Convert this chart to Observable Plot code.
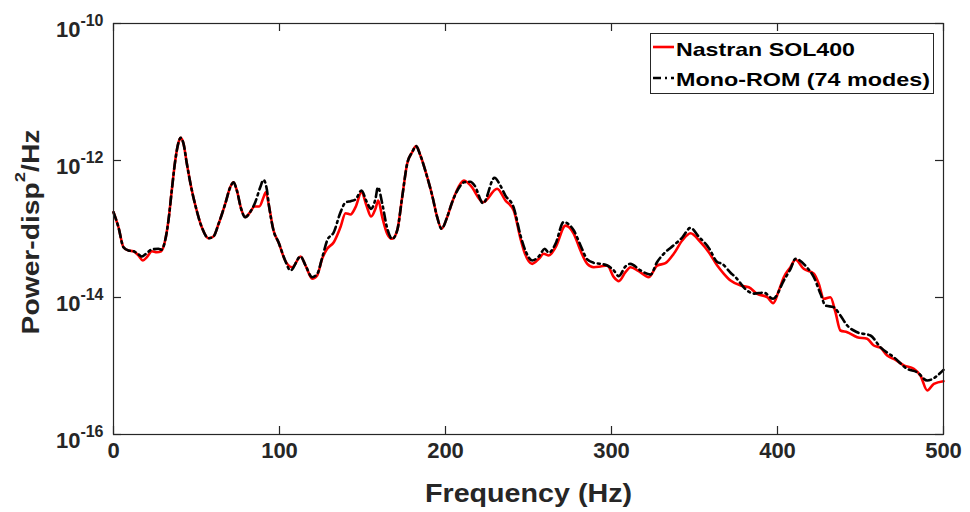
<!DOCTYPE html>
<html>
<head>
<meta charset="utf-8">
<script src="https://cdn.jsdelivr.net/npm/d3@7"></script>
<script src="https://cdn.jsdelivr.net/npm/@observablehq/plot@0.6"></script>
<style>
  body { margin: 0; background: #fff; }
  #chart { width: 970px; height: 512px; position: relative; }
</style>
</head>
<body>
<div id="chart"></div>
<script>
// ---- data ----
const seriesNames = ["Nastran SOL400", "Mono-ROM (74 modes)"];
const xLabel = "Frequency (Hz)";
const yLabelMain = "Power-disp";
const yLabelSup = "2";
const yLabelEnd = "/Hz";
const xTicks = [0, 100, 200, 300, 400, 500];
const yTicks = [1e-16, 1e-14, 1e-12, 1e-10];

const nastranFreq = [
  0, 3, 6, 9, 12, 15.1, 17.7, 20.1, 23.1, 26.1,
  28.7, 31.1, 33.1, 35.1, 37.2, 39.2, 40.5, 42.2, 44.2, 46.8,
  49.6, 53.2, 57.2, 60.2, 63.3, 67.3, 70.3, 72.3, 74.3, 76.9,
  79.3, 82.3, 84.9, 87.8, 90.4, 91.7, 93.8, 96.4, 99.4, 103.4,
  107.7, 112.7, 115.7, 119.7, 122.7, 125.7, 128.7, 132.7, 136.7, 139.8,
  142.8, 145.8, 149.4, 152.4, 155.2, 157.8, 159.5, 161.9, 164.9, 167.9,
  170.9, 173.9, 176.9, 179.9, 182.3, 184.9, 189.0, 192.0, 195.0, 197.6,
  201.0, 204.0, 209.0, 211.0, 215.1, 222.7, 231.1, 236.1, 241.1, 245.2,
  247.2, 252.2, 256.2, 259.2, 262.2, 266.3, 272.3, 277.3, 281.3, 285.4,
  289.3, 293.4, 297.4, 301.4, 304.4, 308.4, 311.4, 316.4, 322.5, 327.5,
  332.5, 337.5, 342.6, 347.6, 353.6, 358.6, 363.7, 367.7, 371.7, 377.7,
  382.7, 387.8, 393.8, 397.4, 400.8, 403.8, 407.8, 410.8, 415.8, 421.9,
  424.9, 427.9, 431.9, 434.9, 437.9, 442.0, 448.0, 454.0, 458.0, 462.0,
  466.1, 471.1, 476.1, 482.1, 486.1, 490.2, 494.2, 500
];
const nastranPSD = [
  1.76e-13, 1.06e-13, 5.42e-14, 4.85e-14, 4.74e-14, 4.10e-14, 3.47e-14, 3.88e-14, 4.74e-14, 4.58e-14,
  4.74e-14, 6.79e-14, 1.33e-13, 3.65e-13, 1.0e-12, 1.85e-12, 2.14e-12, 1.75e-12, 8.95e-13, 4.07e-13,
  2.08e-13, 1.06e-13, 7.34e-14, 7.78e-14, 1.19e-13, 2.33e-13, 4.07e-13, 4.82e-13, 3.65e-13, 1.97e-13,
  1.49e-13, 1.76e-13, 2.13e-13, 2.13e-13, 2.91e-13, 3.44e-13, 2.08e-13, 9.51e-14, 6.41e-14, 3.47e-14,
  2.77e-14, 3.97e-14, 2.93e-14, 1.88e-14, 2.10e-14, 3.67e-14, 5.14e-14, 6.41e-14, 1.06e-13, 1.70e-13,
  1.63e-13, 2.08e-13, 3.44e-13, 2.20e-13, 1.52e-13, 1.97e-13, 2.61e-13, 1.49e-13, 8.51e-14, 7.19e-14,
  9.51e-14, 2.91e-13, 8.95e-13, 1.32e-12, 1.62e-12, 1.18e-12, 5.70e-13, 3.08e-13, 1.49e-13, 1.01e-13,
  1.49e-13, 2.46e-13, 4.57e-13, 5.11e-13, 4.32e-13, 2.46e-13, 3.86e-13, 2.61e-13, 1.86e-13, 7.19e-14,
  4.85e-14, 3.10e-14, 3.67e-14, 4.35e-14, 4.10e-14, 5.42e-14, 1.12e-13, 8.51e-14, 4.85e-14, 3.10e-14,
  2.77e-14, 2.84e-14, 2.93e-14, 1.98e-14, 1.73e-14, 2.34e-14, 2.77e-14, 2.42e-14, 1.98e-14, 2.93e-14,
  3.17e-14, 4.35e-14, 6.79e-14, 8.69e-14, 6.41e-14, 4.58e-14, 2.93e-14, 2.22e-14, 1.77e-14, 1.50e-14,
  1.41e-14, 1.13e-14, 1.01e-14, 8.26e-15, 1.26e-14, 1.98e-14, 2.77e-14, 3.55e-14, 2.62e-14, 2.22e-14,
  1.58e-14, 9.57e-15, 1.01e-14, 6.10e-15, 3.30e-15, 3.11e-15, 2.63e-15, 2.49e-15, 1.99e-15, 1.85e-15,
  1.42e-15, 1.23e-15, 1.02e-15, 9.1e-16, 7.26e-16, 4.39e-16, 5.50e-16, 6.0e-16
];

const romFreq = [
  0, 3, 6, 9, 12, 15.1, 17, 19.1, 23.1, 27.1,
  29, 31.1, 33.1, 35.1, 37.2, 39.2, 40.5, 42.2, 44.2, 46.8,
  49.6, 53.2, 57.2, 60.2, 63.3, 67.3, 70.3, 72.3, 74.3, 76.9,
  79.3, 82.3, 85.4, 88.4, 90.4, 92.3, 93.8, 96.4, 99.4, 103.4,
  106.6, 112.7, 115.7, 119.7, 122.7, 125.7, 128.7, 132.7, 136.7, 139.8,
  142.8, 145.8, 149.4, 152.4, 155.2, 157.8, 159.3, 161.9, 164.9, 167.9,
  170.9, 173.9, 176.9, 179.9, 182.3, 184.9, 189.0, 192.0, 195.0, 197.6,
  201.0, 204.0, 209.0, 211.0, 215.1, 217.5, 222.7, 229.5, 233.0, 236.1,
  241.1, 245.2, 248.5, 252.2, 256.2, 259.8, 262.2, 266.3, 271.1, 277.3,
  281.3, 285.4, 289.3, 293.4, 297.4, 301.4, 304.4, 308.4, 311.4, 317.5,
  323.5, 327.5, 331.5, 337.5, 342.6, 347.6, 352.6, 358.6, 363.7, 366.7,
  371.7, 374.7, 381.7, 386.0, 391.7, 397.4, 403.8, 407.8, 410.8, 417.6,
  421.9, 425.9, 428.9, 433.9, 437.9, 442.0, 448.0, 456.0, 462.0, 470.1,
  478.1, 484.2, 490.2, 500
];
const romPSD = [
  1.76e-13, 1.06e-13, 5.42e-14, 4.85e-14, 4.74e-14, 4.25e-14, 3.97e-14, 4.25e-14, 5.02e-14, 5.14e-14,
  5.0e-14, 6.79e-14, 1.33e-13, 3.65e-13, 1.0e-12, 1.85e-12, 2.14e-12, 1.75e-12, 8.95e-13, 4.07e-13,
  2.08e-13, 1.06e-13, 7.34e-14, 7.78e-14, 1.19e-13, 2.33e-13, 4.07e-13, 4.82e-13, 3.65e-13, 1.97e-13,
  1.49e-13, 1.76e-13, 2.46e-13, 4.07e-13, 5.23e-13, 3.86e-13, 2.08e-13, 9.51e-14, 6.41e-14, 3.47e-14,
  2.48e-14, 3.97e-14, 2.93e-14, 1.98e-14, 2.2e-14, 3.8e-14, 6.79e-14, 8.98e-14, 1.74e-13, 2.44e-13,
  2.55e-13, 2.69e-13, 3.65e-13, 2.53e-13, 1.97e-13, 2.75e-13, 4.07e-13, 2.34e-13, 1.02e-13, 7.19e-14,
  9.51e-14, 2.91e-13, 8.95e-13, 1.32e-12, 1.62e-12, 1.18e-12, 5.70e-13, 3.08e-13, 1.49e-13, 1.01e-13,
  1.49e-13, 2.46e-13, 4.3e-13, 4.8e-13, 4.9e-13, 4.32e-13, 2.37e-13, 5.59e-13, 4.32e-13, 3.08e-13,
  2.05e-13, 8.0e-14, 4.6e-14, 3.47e-14, 3.97e-14, 5.14e-14, 4.5e-14, 6.1e-14, 1.26e-13, 9.5e-14,
  5.8e-14, 3.6e-14, 3.2e-14, 3.1e-14, 2.93e-14, 2.48e-14, 2.05e-14, 2.84e-14, 3.10e-14, 2.48e-14,
  2.16e-14, 3.3e-14, 4.35e-14, 5.8e-14, 7.5e-14, 1.04e-13, 7.7e-14, 5.3e-14, 3.3e-14, 3.1e-14,
  2.3e-14, 1.98e-14, 1.26e-14, 1.14e-14, 1.18e-14, 9.57e-15, 1.77e-14, 2.6e-14, 3.67e-14, 2.77e-14,
  1.98e-14, 1.13e-14, 7.64e-15, 7.2e-15, 5.46e-15, 3.9e-15, 3.11e-15, 2.79e-15, 1.88e-15, 1.34e-15,
  9.1e-16, 8.1e-16, 6.14e-16, 8.8e-16
];

// ---- build tables ----
const nastran = nastranFreq.map((f, i) => ({f, p: nastranPSD[i]}));
const rom = romFreq.map((f, i) => ({f, p: romPSD[i]}));

const W = 970, H = 512;
const mL = 113, mR = 27, mT = 23, mB = 78;
const fw = W - mL - mR, fh = H - mT - mB;
const tickLen = 8;
const axisColor = "#262626";
const dash = "8,4,2,4";
const font = '"Liberation Sans", Arial, sans-serif';

const chart = Plot.plot({
  width: W, height: H,
  marginLeft: mL, marginRight: mR, marginTop: mT, marginBottom: mB,
  style: {fontFamily: font, fontWeight: "bold", color: axisColor, background: "#fff", overflow: "visible"},
  x: {domain: [0, 500], label: null},
  y: {type: "log", domain: [1e-16, 1e-10], label: null},
  marks: [
    Plot.line(nastran, {x: "f", y: "p", stroke: "#ff0000", strokeWidth: 2.6, curve: "monotone-x"}),
    Plot.line(rom, {x: "f", y: "p", stroke: "#000", strokeWidth: 2.6, strokeDasharray: dash, curve: "monotone-x"}),
    Plot.frame({stroke: axisColor, strokeWidth: 1.2}),
    Plot.ruleX(xTicks, {insetTop: fh - tickLen, stroke: axisColor, strokeWidth: 1.2}),
    Plot.ruleX(xTicks, {insetBottom: fh - tickLen, stroke: axisColor, strokeWidth: 1.2}),
    Plot.ruleY(yTicks, {insetRight: fw - tickLen, stroke: axisColor, strokeWidth: 1.2}),
    Plot.ruleY(yTicks, {insetLeft: fw - tickLen, stroke: axisColor, strokeWidth: 1.2}),
    Plot.axisX({ticks: xTicks, tickSize: 0, tickPadding: 8, fontSize: 22, label: null, tickFormat: d => String(d)}),
    Plot.axisY({ticks: yTicks, tickSize: 0, tickPadding: 10, fontSize: 22, label: null,
                tickFormat: d => String(Math.round(Math.log10(d)))}),
    Plot.text([xLabel], {text: d => d, frameAnchor: "bottom", lineAnchor: "bottom", textAnchor: "middle", dy: 67, fontSize: 25, fill: axisColor}),
    Plot.text([yLabelMain], {text: d => d, frameAnchor: "left", lineAnchor: "bottom", textAnchor: "middle", rotate: -90, dx: -75, dy: 3, fontSize: 23, fill: axisColor})
  ]
});

document.getElementById("chart").appendChild(chart);
const svg = d3.select(chart);

const byContent = s => svg.selectAll("text").filter(function () { return this.textContent === s; });

// superscript exponents on y tick labels
svg.selectAll('g[aria-label="y-axis tick label"] text').each(function () {
  const t = d3.select(this);
  const e = t.text();
  t.text(null).attr("y", 13).attr("dy", null);
  t.append("tspan").text("10");
  t.append("tspan").attr("dy", -11).attr("font-size", 16).text(e);
});

// x label stretched like reference
byContent(xLabel).attr("textLength", 207).attr("lengthAdjust", "spacingAndGlyphs");

// y label with superscript, stretched along its reading direction
byContent(yLabelMain).each(function () {
  const t = d3.select(this);
  t.text(null).attr("text-anchor", "middle");
  t.append("tspan").text(yLabelMain);
  t.append("tspan").attr("dy", -14).attr("font-size", 15).text(yLabelSup);
  t.append("tspan").attr("dy", 14).attr("font-size", 23).text(yLabelEnd);
  const len = this.getComputedTextLength();
  const tr = t.attr("transform") || "";
  t.attr("transform", tr + ` scale(${205 / len},1)`);
});

// legend
const lg = svg.append("g").attr("font-family", font).attr("font-weight", "bold").attr("text-anchor", "start");
lg.append("rect").attr("x", 650.5).attr("y", 33.5).attr("width", 283).attr("height", 60)
  .attr("fill", "#fff").attr("stroke", axisColor).attr("stroke-width", 1);
const rows = [
  {name: seriesNames[0], color: "#ff0000", dash: null, y: 47, base: 56, len: 179},
  {name: seriesNames[1], color: "#000", dash: dash, y: 78, base: 85.5, len: 254}
];
rows.forEach(r => {
  lg.append("line").attr("x1", 653).attr("x2", 674).attr("y1", r.y).attr("y2", r.y)
    .attr("stroke", r.color).attr("stroke-width", 2.6).attr("stroke-dasharray", r.dash);
  lg.append("text").attr("x", 676).attr("y", r.base).attr("font-size", 19).attr("fill", "#000")
    .attr("text-anchor", "start")
    .attr("textLength", r.len).attr("lengthAdjust", "spacingAndGlyphs").text(r.name);
});
</script>
</body>
</html>
